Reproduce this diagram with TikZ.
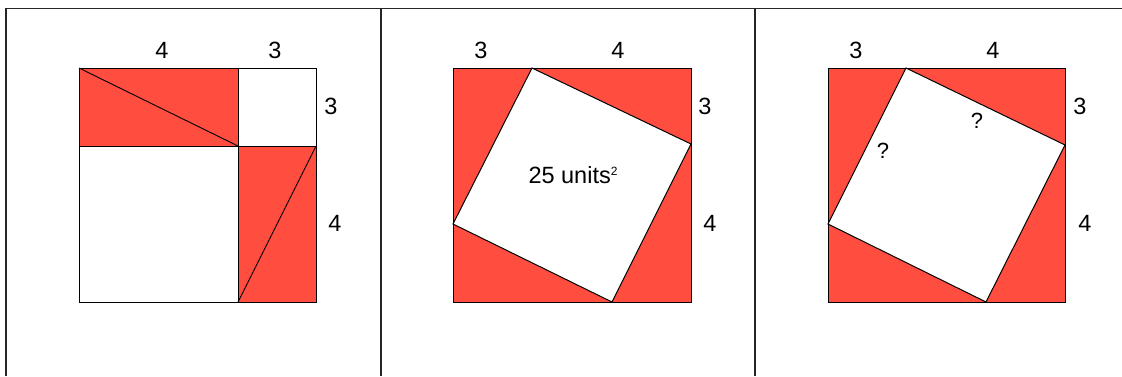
\documentclass[tikz,border=0pt]{standalone}
\usepackage{fontspec}
\setmainfont{Liberation Sans}
\usetikzlibrary{positioning}
\definecolor{tri}{RGB}{255,77,64}

\begin{document}
\begin{tikzpicture}[
  x=1pt, y=-1pt,
  rule/.style={draw=black!85, line width=1.2pt},
  piece/.style={fill=tri, draw=black, line width=1pt},
  hole/.style={fill=white, draw=black, line width=1pt},
  cut/.style={draw=black, line width=0.9pt},
  side/.style={font=\fontsize{23.5}{26}\selectfont, inner sep=0pt},
  ask/.style={font=\fontsize{22}{24}\selectfont, inner sep=0pt}
]
\useasboundingbox (0,0) rectangle (1122,376);
% table rules
\draw[rule] (6,376) -- (6,8.5) -- (1122,8.5);
\draw[rule, line width=2.4pt] (381,8.5) -- (381,376);
\draw[rule] (755,8.5) -- (755,376);

% panel 1
\draw[piece] (79,68) rectangle (238,146);
\draw[cut] (79,68) -- (238,146);
\draw[hole] (238,68) rectangle (316,146);
\draw[hole] (79,146) rectangle (238,302);
\draw[piece] (238,146) rectangle (316,302);
\draw[cut] (238,302) -- (316,146);
\node[side] (a4) at (162,50) {4};
\node[side] (a3) at (275,50) {3};
\node[side] (b3) at (331,106) {3};
\node[side] (b4) at (335,223) {4};

% panel 2
\draw[piece] (453,68) rectangle (691,302);
\draw[hole] (532,68) -- (691,144) -- (612,302) -- (453,224) -- cycle;
\node[side] (c3) at (481,50) {3};
\node[side] (c4) at (618,50) {4};
\node[side] (d3) at (705,106) {3};
\node[side] (d4) at (710,223) {4};
\node[side] (area) at (573,175) {25 units\raisebox{8pt}{\fontsize{12}{12}\selectfont 2}};

% panel 3
\draw[piece] (828,68) rectangle (1065,302);
\draw[hole] (906,68) -- (1065,145) -- (986,302) -- (828,224) -- cycle;
\node[side] (e3) at (856,50) {3};
\node[side] (e4) at (993,50) {4};
\node[side] (f3) at (1080,106) {3};
\node[side] (f4) at (1085,223) {4};
\node[ask] (q1) at (883,151) {?};
\node[ask] (q2) at (977,121) {?};
\end{tikzpicture}
\end{document}
